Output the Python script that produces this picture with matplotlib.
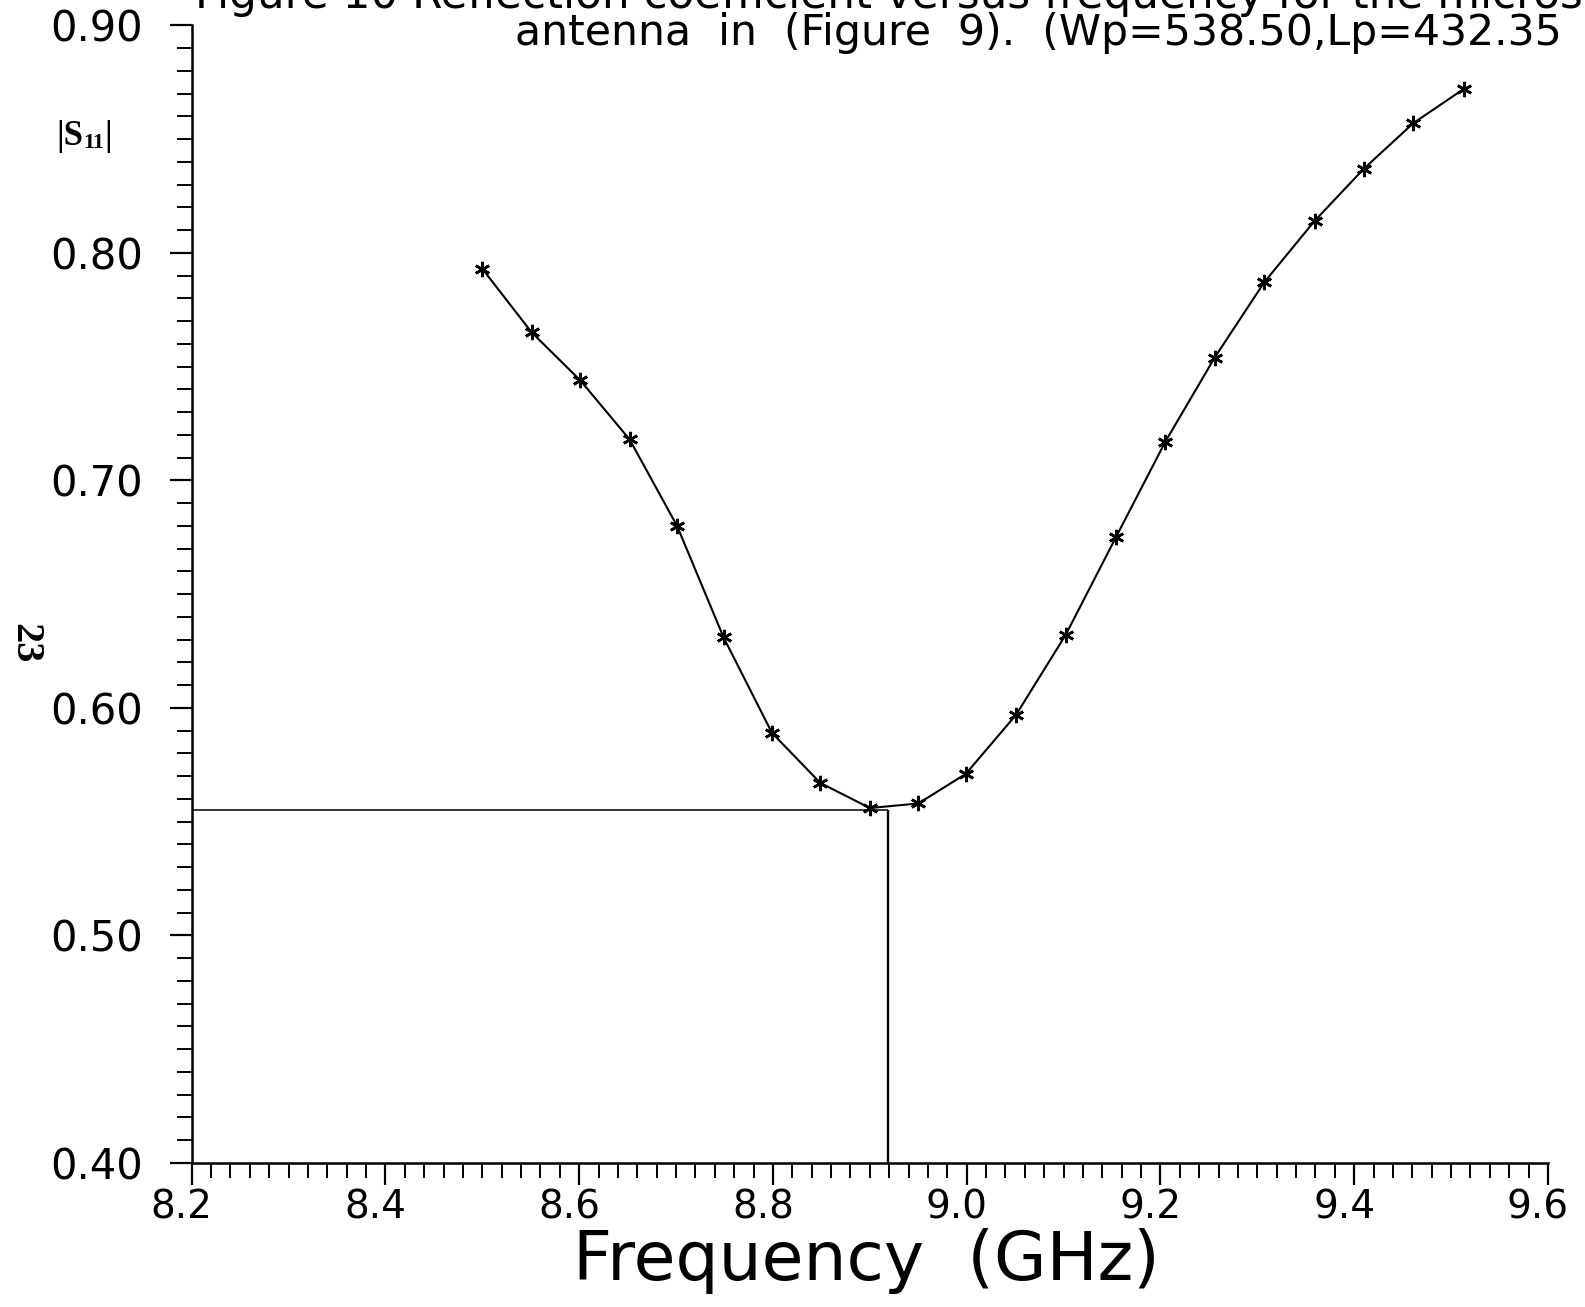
import matplotlib
matplotlib.use("Agg")
import matplotlib.pyplot as plt
from matplotlib.ticker import MultipleLocator, FormatStrFormatter
from matplotlib.transforms import ScaledTranslation

# ---- data ----
freq_ghz = [8.500, 8.551, 8.601, 8.652, 8.701, 8.749, 8.799, 8.849, 8.900, 8.950,
            8.999, 9.051, 9.102, 9.154, 9.205, 9.256, 9.307, 9.359, 9.410, 9.461, 9.513]
s11_mag = [0.793, 0.765, 0.744, 0.718, 0.680, 0.631, 0.589, 0.567, 0.556, 0.558,
           0.571, 0.597, 0.632, 0.675, 0.717, 0.754, 0.787, 0.814, 0.837, 0.857, 0.872]
min_freq = 8.919
min_s11 = 0.555

x_range = (8.2, 9.6)
y_range = (0.40, 0.90)
title_line1 = "Figure 10 Reflection coefficient versus frequency for the microstrip"
title_line2 = "antenna  in  (Figure  9).  (Wp=538.50,Lp=432.35"
xlabel = "Frequency  (GHz)"
page_no = "23"

W, H, DPI = 1585, 1307, 100
fig = plt.figure(figsize=(W / DPI, H / DPI), dpi=DPI)
fig.patch.set_facecolor("white")

left_px, right_px, top_px, bottom_px = 191.7, 1548.0, 25.3, 1163.0
ax = fig.add_axes([left_px / W, 1 - bottom_px / H,
                   (right_px - left_px) / W, (bottom_px - top_px) / H])
ax.set_xlim(*x_range)
ax.set_ylim(*y_range)

for s in ("top", "right"):
    ax.spines[s].set_visible(False)
for s in ("left", "bottom"):
    ax.spines[s].set_linewidth(1.8)
    ax.spines[s].set_color("black")

ax.xaxis.set_major_locator(MultipleLocator(0.2))
ax.xaxis.set_minor_locator(MultipleLocator(0.02))
ax.yaxis.set_major_locator(MultipleLocator(0.1))
ax.yaxis.set_minor_locator(MultipleLocator(0.01))
ax.xaxis.set_major_formatter(FormatStrFormatter("%.1f"))
ax.yaxis.set_major_formatter(FormatStrFormatter("%.2f"))

ax.tick_params(axis="x", which="major", direction="out", length=15.8, width=1.6,
               pad=2.5, labelsize=28)
ax.tick_params(axis="x", which="minor", direction="out", length=10.8, width=1.4)
ax.tick_params(axis="y", which="major", direction="out", length=15.8, width=1.6,
               pad=19.0, labelsize=30)
ax.tick_params(axis="y", which="minor", direction="out", length=10.8, width=1.4)

# crosshair marking the minimum
ax.plot([x_range[0], min_freq], [min_s11, min_s11], color="black", lw=1.1,
        solid_capstyle="butt")
ax.plot([min_freq, min_freq], [y_range[0], min_s11], color="black", lw=1.7,
        solid_capstyle="butt")

# curve with asterisk markers
ax.plot(freq_ghz, s11_mag, color="black", lw=1.5, marker=(6, 2, 0),
        markersize=11, markeredgewidth=1.9, clip_on=False)

# axis labels / texts
fig.text(866 / W, 1 - 1280 / H, xlabel, ha="center", va="baseline", fontsize=49)
fig.text(195 / W, 1 - 8 / H, title_line1, ha="left", va="baseline", fontsize=31.5)
fig.text(515 / W, 1 - 45 / H, title_line2, ha="left", va="baseline", fontsize=30.7)

t1 = fig.text(56 / W, 1 - 145 / H, "|S", ha="left", va="baseline",
              fontsize=25, fontweight="bold", family="Liberation Serif")
t2 = ax.annotate("11", xy=(1, 0), xycoords=t1, ha="left", va="bottom",
                 fontsize=16, fontweight="bold", family="Liberation Serif",
                 annotation_clip=False)
ax.annotate("|", xy=(1, 0), xycoords=t2, ha="left", va="bottom", fontsize=25,
            fontweight="bold", family="Liberation Serif", annotation_clip=False)

fig.text(25 / W, 1 - 643 / H, page_no, ha="center", va="center", rotation=270,
         fontsize=29, fontweight="bold", family="Liberation Serif")

# plotter labels sit slightly left of their ticks
offset = ScaledTranslation(-10 / DPI, 0, fig.dpi_scale_trans)
for tick in ax.xaxis.get_major_ticks():
    tick.label1.set_transform(tick.label1.get_transform() + offset)

fig.savefig("out.png", dpi=DPI, facecolor="white")
